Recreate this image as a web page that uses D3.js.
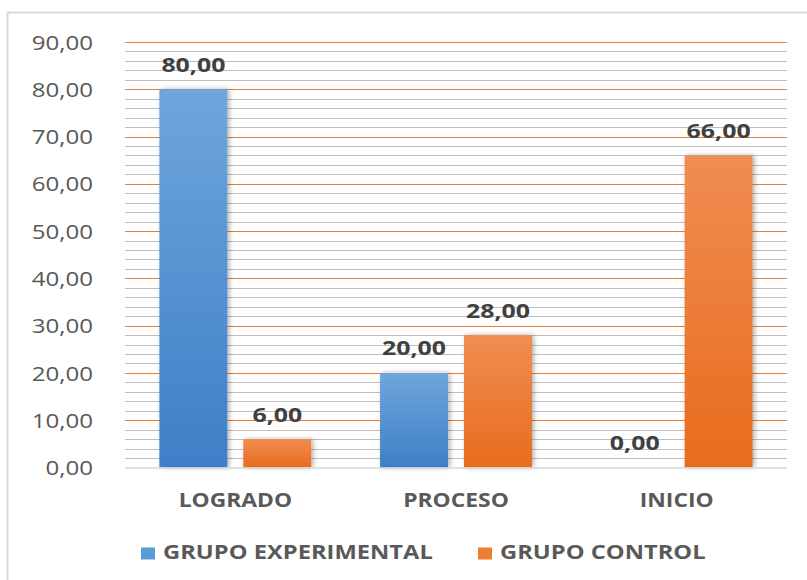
<!DOCTYPE html>
<html><head><meta charset="utf-8">
<script src="https://cdn.jsdelivr.net/npm/d3@7/dist/d3.min.js"></script>
<style>body{margin:0;background:#fff;} svg{display:block;}</style>
</head><body>
<script>
const categories = ["LOGRADO", "PROCESO", "INICIO"];
const seriesNames = ["GRUPO EXPERIMENTAL", "GRUPO CONTROL"];
const experimental = [80, 20, 0];
const control = [6, 28, 66];
const yTicks = [0, 10, 20, 30, 40, 50, 60, 70, 80, 90];
const minorTicks = d3.range(0, 90, 2).filter(v => v % 10 !== 0);

(function () {
const W = 807, H = 580;
const FONT = "'Open Sans', 'DejaVu Sans', sans-serif";
const svg = d3.select("body").append("svg").attr("width", W).attr("height", H);
const defs = svg.append("defs");
function grad(id, t, b) {
  const g = defs.append("linearGradient").attr("id", id).attr("x1", 0).attr("y1", 0).attr("x2", 0).attr("y2", 1);
  g.append("stop").attr("offset", "0%").attr("stop-color", t);
  g.append("stop").attr("offset", "100%").attr("stop-color", b);
}
grad("gBlue", "#6fa6dc", "#3d7fc6");
grad("gOrange", "#f08d52", "#e86c1c");
const f = defs.append("filter").attr("id", "shadow").attr("x", "-20%").attr("y", "-10%").attr("width", "140%").attr("height", "120%");
f.append("feDropShadow").attr("dx", 2).attr("dy", 0).attr("stdDeviation", 2.5).attr("flood-color", "#000").attr("flood-opacity", 0.3);

// chart border
svg.append("rect").attr("x", 7.5).attr("y", 12.5).attr("width", W).attr("height", H).attr("fill", "none").attr("stroke", "#d9d9d9").attr("stroke-width", 2);

const pLeft = 125, pRight = 787, pTop = 42, pBottom = 467.5;
const y = d3.scaleLinear().domain([0, 90]).range([pBottom, pTop]);
const x0 = d3.scaleBand().domain(categories).range([pLeft, pRight]).paddingInner(0).paddingOuter(0);
const x1 = d3.scaleBand().domain(seriesNames).range([0, x0.bandwidth()]).paddingInner(0.19).paddingOuter(0.41);

// minor gridlines
svg.append("g").selectAll("line").data(minorTicks).join("line")
  .attr("x1", pLeft).attr("x2", pRight).attr("y1", d => Math.round(y(d)) + 0.5).attr("y2", d => Math.round(y(d)) + 0.5)
  .attr("stroke", "#bfbfbf").attr("stroke-width", 1);
// major gridlines
svg.append("g").selectAll("line").data(yTicks.filter(v => v > 0)).join("line")
  .attr("x1", pLeft).attr("x2", pRight).attr("y1", d => Math.round(y(d)) + 0.5).attr("y2", d => Math.round(y(d)) + 0.5)
  .attr("stroke", "#ed7d31").attr("stroke-width", 1);

const fmt = d => d3.format(".2f")(d).replace(".", ",");

// y axis labels
const yAxis = d3.axisLeft(y).tickValues(yTicks).tickSize(0).tickPadding(0).tickFormat(fmt);
const ya = svg.append("g").attr("transform", `translate(93,0)`).call(yAxis);
ya.select(".domain").remove();
ya.selectAll("text").attr("font-family", FONT).attr("font-size", 19.6).attr("fill", "#595959")
  .attr("dy", "0.36em").attr("transform", "scale(1.23,1)");

// bars
const data = categories.map((c, i) => ({ cat: c, vals: [{ s: seriesNames[0], v: experimental[i] }, { s: seriesNames[1], v: control[i] }] }));
const fills = { [seriesNames[0]]: "url(#gBlue)", [seriesNames[1]]: "url(#gOrange)" };
const groups = svg.append("g").selectAll("g").data(data).join("g").attr("transform", d => `translate(${x0(d.cat)},0)`);
groups.selectAll("rect").data(d => d.vals.filter(e => e.v > 0)).join("rect")
  .attr("x", d => x1(d.s)).attr("width", x1.bandwidth())
  .attr("y", d => y(d.v)).attr("height", d => y(0) - y(d.v))
  .attr("fill", d => fills[d.s]).attr("filter", "url(#shadow)");
groups.selectAll("g.lbl").data(d => d.vals).join("g").attr("class", "lbl")
  .attr("transform", d => `translate(${x1(d.s) + x1.bandwidth() / 2},${y(d.v) - 17.5})`)
  .append("text")
  .attr("text-anchor", "middle").attr("font-family", FONT).attr("font-weight", "bold")
  .attr("font-size", 19.6).attr("fill", "#404040").attr("transform", "scale(1.27,1)")
  .text(d => fmt(d.v));

// x axis line
svg.append("line").attr("x1", pLeft).attr("x2", pRight).attr("y1", pBottom + 0.5).attr("y2", pBottom + 0.5).attr("stroke", "#d9d9d9").attr("stroke-width", 1.5);
const xAxis = d3.axisBottom(x0).tickSize(0).tickPadding(0);
const xa = svg.append("g").attr("transform", `translate(0,507)`).call(xAxis);
xa.select(".domain").remove();
xa.selectAll("text").attr("font-family", FONT).attr("font-weight", "bold").attr("font-size", 19.5).attr("fill", "#595959")
  .attr("dy", 0).attr("y", 0).attr("transform", "scale(1.17,1)");

// legend
const legend = svg.append("g");
const legendX = [141, 478];
const legColors = ["#5b9bd5", "#ed7d31"];
seriesNames.forEach((s, i) => {
  legend.append("rect").attr("x", legendX[i]).attr("y", 547.5).attr("width", 14).attr("height", 12).attr("fill", legColors[i]);
  legend.append("g").attr("transform", `translate(${legendX[i] + 22},559)`)
    .append("text").attr("font-family", FONT).attr("transform", "scale(1.21,1)")
    .attr("font-weight", "bold").attr("font-size", 19.6).attr("fill", "#595959").text(s);
});
})();
</script>
</body></html>
